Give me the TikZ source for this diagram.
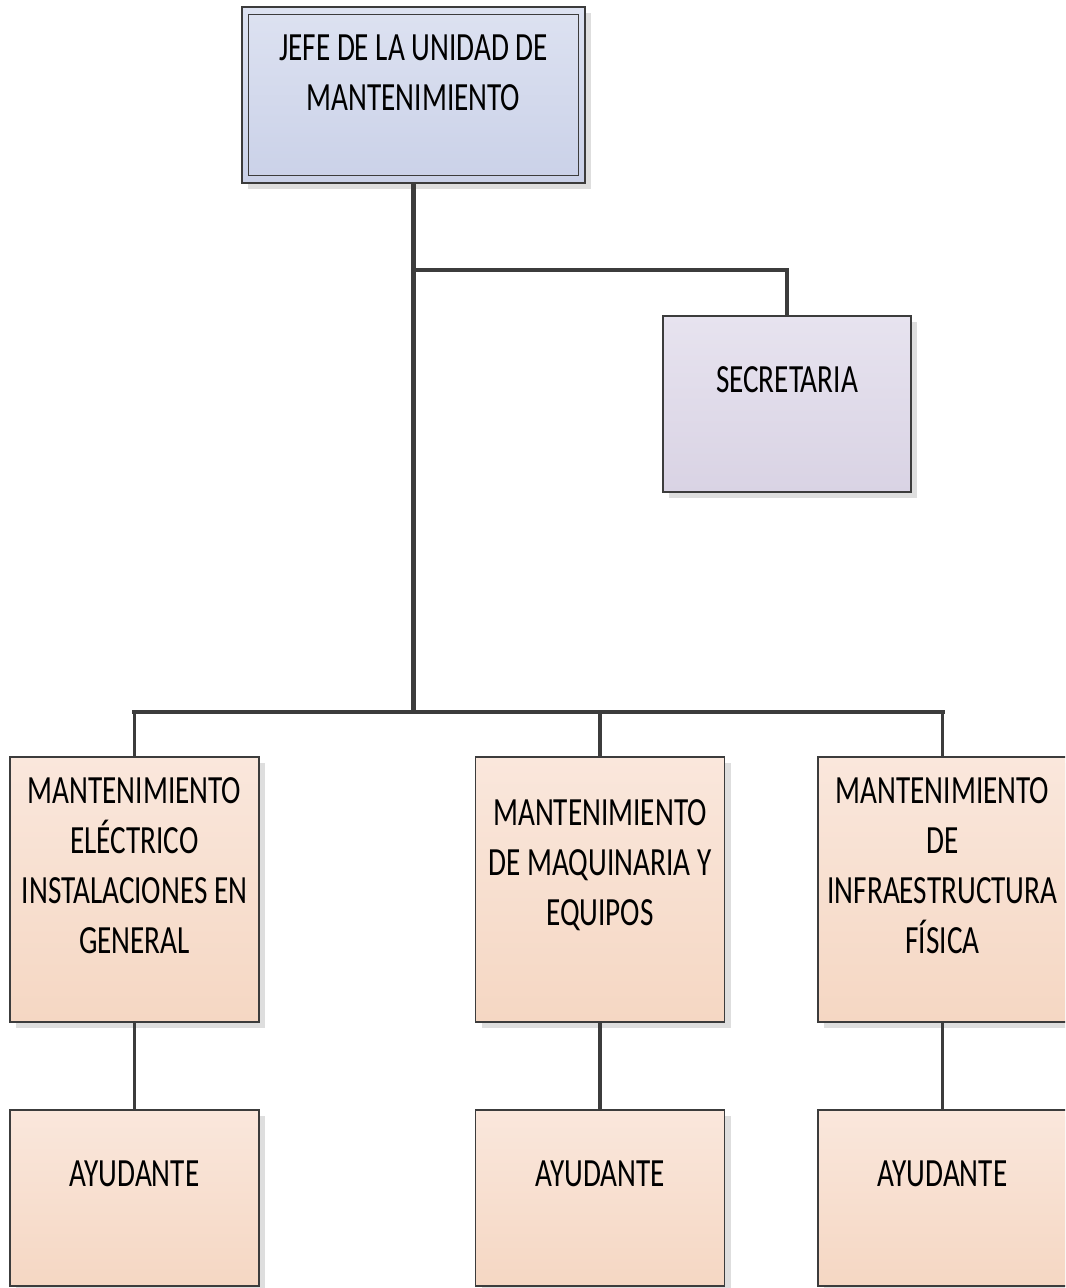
\documentclass[tikz,border=0pt]{standalone}
\usepackage{fontspec}
\setmainfont{Carlito}[FakeStretch=0.73]
\usetikzlibrary{shadows}
\definecolor{lineclr}{HTML}{3C3C3C}
\definecolor{blueTop}{HTML}{DDE2F1}
\definecolor{blueBot}{HTML}{CAD1E8}
\definecolor{lavTop}{HTML}{E7E3EF}
\definecolor{lavBot}{HTML}{D9D3E4}
\definecolor{orTop}{HTML}{FAE7DC}
\definecolor{orBot}{HTML}{F5D7C3}
\definecolor{shadowclr}{HTML}{DEDEDE}
\begin{document}
\begin{tikzpicture}[x=0.75pt,y=-0.75pt,
  box/.style={draw=lineclr, line width=0.9pt, rectangle, inner sep=0pt,
    general shadow={fill=shadowclr, shadow xshift=4.5pt, shadow yshift=-4.5pt}},
  bluebox/.style={box, top color=blueTop, bottom color=blueBot},
  lavbox/.style={box, top color=lavTop, bottom color=lavBot},
  orbox/.style={box, top color=orTop, bottom color=orBot},
  lbl/.style={align=center, inner sep=0pt, text=black, font=\fontsize{30}{37.5}\selectfont},
  trunk/.style={draw=lineclr, line width=3.6pt},
  drop/.style={draw=lineclr, line width=2.6pt}]
\useasboundingbox (0,0) rectangle (1065,1288);
\clip (0,0) rectangle (1065,1288);
\fill[white] (0,0) rectangle (1065,1288);

% boxes
\node[bluebox, minimum width=257.25pt, minimum height=132pt] (top) at (413.5,95) {};
\draw[lineclr, line width=0.9pt] ([shift={(7,8)}]top.north west) rectangle ([shift={(-7,-8)}]top.south east);
\node[lbl] (topt) at ([yshift=17pt]top.center) {JEFE DE LA UNIDAD DE\\MANTENIMIENTO};

\node[lavbox, minimum width=186pt, minimum height=132pt] (sec) at (787,404) {};
\node[lbl] (sect) at ([yshift=18pt]sec.center) {SECRETARIA};

\node[orbox, minimum width=186.75pt, minimum height=198.75pt] (m1) at (134.5,889.5) {};
\node[orbox, minimum width=186.75pt, minimum height=198.75pt] (m2) at (600,889.5) {};
\node[orbox, minimum width=186.75pt, minimum height=198.75pt] (m3) at (942.5,889.5) {};
\node[lbl] (m1t) at ([yshift=18pt]m1.center) {MANTENIMIENTO\\ELÉCTRICO\\INSTALACIONES EN\\GENERAL};
\node[lbl] (m2t) at ([yshift=18pt]m2.center) {MANTENIMIENTO\\DE MAQUINARIA Y\\EQUIPOS};
\node[lbl] (m3t) at ([yshift=18pt]m3.center) {MANTENIMIENTO\\DE\\INFRAESTRUCTURA\\FÍSICA};

\node[orbox, minimum width=186.75pt, minimum height=132pt] (a1) at (134.5,1198) {};
\node[orbox, minimum width=186.75pt, minimum height=132pt] (a2) at (600,1198) {};
\node[orbox, minimum width=186.75pt, minimum height=132pt] (a3) at (942.5,1198) {};
\node[lbl] (a1t) at ([yshift=18pt]a1.center) {AYUDANTE};
\node[lbl] (a2t) at ([yshift=18pt]a2.center) {AYUDANTE};
\node[lbl] (a3t) at ([yshift=18pt]a3.center) {AYUDANTE};

% connectors
\coordinate (jsec) at (413.5,270);
\coordinate (jbus) at (413.5,712);
\draw[trunk] (top.south) -- (jbus);
\draw[trunk] (jsec) -| (sec.north);
\draw[trunk, line cap=rect] (m1.north |- jbus) -- (m3.north |- jbus);
\draw[drop] (m1.north |- jbus) -- (m1.north);
\draw[drop] (m2.north |- jbus) -- (m2.north);
\draw[drop] (m3.north |- jbus) -- (m3.north);
\draw[drop] (m1.south) -- (a1.north);
\draw[drop] (m2.south) -- (a2.north);
\draw[drop] (m3.south) -- (a3.north);
\end{tikzpicture}
\end{document}
